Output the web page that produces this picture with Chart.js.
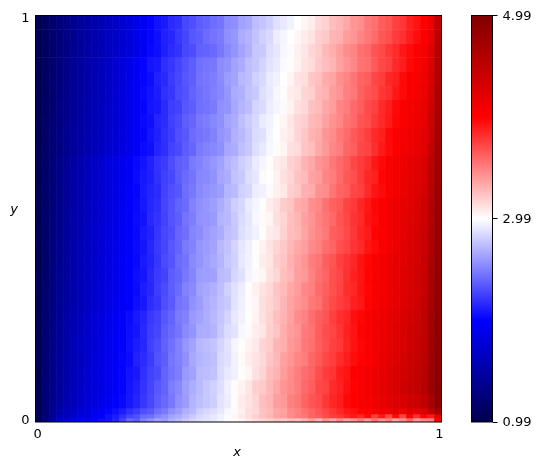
<!DOCTYPE html>
<html>
<head>
<meta charset="utf-8">
<style>
body { margin: 0; background: #fff; }
canvas { position: absolute; top: 0; }
</style>
<script src="https://cdn.jsdelivr.net/npm/chart.js@4"></script>
</head>
<body>
<canvas id="field" width="460" height="470" style="left:0"></canvas>
<canvas id="bar" width="82" height="470" style="left:460px"></canvas>
<script>
const xTicks = [0.005, 0.995];
const yTicks = [0.005, 0.995];
const barTicks = [0.99, 2.99, 4.99];
const colorStops = [
    [0, [0, 0, 77]],
    [0.25, [0, 0, 255]],
    [0.5, [255, 255, 255]],
    [0.75, [255, 0, 0]],
    [1, [128, 0, 0]]
];
// row limits in y, top row first. the last three rows are the thin strip along y=0
const rowEdges = [1, 0.9655, 0.931, 0.8966, 0.8621, 0.8276, 0.7931, 0.7586, 0.7241, 0.6897, 0.6552, 0.6207, 0.5862, 0.5517, 0.5172, 0.4828, 0.4483, 0.4138, 0.3793, 0.3448, 0.3103, 0.2759, 0.2414, 0.2069, 0.1724, 0.1379, 0.1034, 0.069, 0.0345, 0.0197, 0.0099, 0];
// values, one line per row, 58 columns left to right
const cells = [
[1.02,1.10,1.17,1.24,1.30,1.36,1.42,1.47,1.52,1.57,1.62,1.67,1.72,1.78,1.85,1.92,2.00,2.06,2.09,2.16,2.18,2.27,2.30,2.35,2.38,2.42,2.44,2.53,2.55,2.62,2.65,2.73,2.76,2.80,2.87,2.90,2.94,2.99,3.03,3.06,3.14,3.17,3.25,3.28,3.33,3.40,3.43,3.52,3.55,3.63,3.66,3.74,3.78,3.87,3.92,4.00,4.12,4.50],
[1.03,1.10,1.18,1.24,1.31,1.36,1.43,1.47,1.53,1.57,1.63,1.67,1.73,1.78,1.86,1.93,2.01,2.05,2.12,2.14,2.21,2.26,2.33,2.36,2.41,2.44,2.47,2.55,2.58,2.66,2.69,2.75,2.81,2.84,2.92,2.95,2.99,3.02,3.07,3.10,3.18,3.21,3.28,3.30,3.38,3.41,3.47,3.52,3.57,3.65,3.68,3.76,3.80,3.88,3.94,4.01,4.16,4.55],
[1.02,1.11,1.17,1.25,1.30,1.37,1.42,1.48,1.52,1.58,1.63,1.68,1.74,1.79,1.85,1.93,2.02,2.04,2.11,2.16,2.19,2.27,2.29,2.37,2.38,2.40,2.46,2.52,2.57,2.63,2.68,2.77,2.78,2.86,2.89,2.96,2.98,3.05,3.09,3.15,3.19,3.27,3.31,3.37,3.44,3.47,3.55,3.58,3.66,3.70,3.77,3.82,3.90,3.95,4.02,4.06,4.22,4.58],
[1.03,1.11,1.18,1.26,1.32,1.38,1.44,1.50,1.55,1.60,1.66,1.72,1.78,1.85,1.93,2.00,2.07,2.09,2.17,2.20,2.26,2.31,2.36,2.43,2.45,2.46,2.54,2.56,2.63,2.66,2.74,2.77,2.82,2.88,2.91,2.97,3.00,3.04,3.10,3.13,3.20,3.25,3.28,3.36,3.41,3.46,3.54,3.56,3.64,3.71,3.74,3.83,3.88,3.96,4.03,4.08,4.26,4.60],
[1.02,1.12,1.19,1.26,1.33,1.39,1.44,1.51,1.56,1.61,1.67,1.72,1.79,1.86,1.93,2.01,2.04,2.12,2.15,2.22,2.27,2.33,2.36,2.44,2.46,2.48,2.53,2.60,2.63,2.71,2.74,2.81,2.84,2.91,2.94,2.99,3.03,3.10,3.12,3.21,3.24,3.32,3.35,3.43,3.47,3.53,3.60,3.63,3.71,3.75,3.84,3.87,3.95,4.01,4.06,4.11,4.30,4.62],
[1.03,1.11,1.20,1.27,1.33,1.40,1.45,1.50,1.57,1.61,1.67,1.73,1.79,1.87,1.94,2.02,2.06,2.10,2.18,2.20,2.28,2.31,2.38,2.42,2.45,2.49,2.52,2.58,2.66,2.68,2.75,2.78,2.86,2.90,2.96,3.00,3.06,3.08,3.16,3.18,3.27,3.30,3.38,3.41,3.49,3.52,3.61,3.66,3.69,3.78,3.81,3.90,3.96,4.03,4.07,4.13,4.33,4.64],
[1.02,1.12,1.20,1.28,1.34,1.40,1.46,1.52,1.57,1.62,1.68,1.74,1.80,1.87,1.94,2.01,2.07,2.09,2.16,2.23,2.25,2.33,2.35,2.43,2.44,2.47,2.55,2.57,2.65,2.70,2.73,2.82,2.85,2.92,2.95,3.01,3.04,3.11,3.14,3.23,3.26,3.34,3.38,3.47,3.50,3.58,3.62,3.70,3.74,3.82,3.88,3.96,4.02,4.06,4.10,4.15,4.36,4.66],
[1.03,1.13,1.21,1.28,1.35,1.41,1.47,1.52,1.58,1.63,1.68,1.74,1.80,1.87,1.95,2.02,2.05,2.13,2.16,2.24,2.28,2.36,2.39,2.46,2.48,2.52,2.55,2.63,2.66,2.74,2.79,2.84,2.91,2.94,3.00,3.03,3.09,3.15,3.18,3.26,3.29,3.36,3.42,3.46,3.54,3.58,3.66,3.69,3.77,3.83,3.89,3.97,4.02,4.07,4.12,4.16,4.38,4.68],
[1.02,1.13,1.21,1.29,1.36,1.42,1.47,1.53,1.59,1.64,1.69,1.75,1.81,1.88,1.95,2.01,2.07,2.11,2.18,2.22,2.30,2.33,2.41,2.44,2.46,2.50,2.57,2.60,2.68,2.71,2.77,2.85,2.87,2.95,2.99,3.05,3.08,3.16,3.21,3.29,3.32,3.41,3.44,3.52,3.57,3.64,3.69,3.75,3.83,3.87,3.96,4.01,4.06,4.10,4.15,4.20,4.41,4.70],
[1.03,1.14,1.22,1.29,1.36,1.43,1.48,1.54,1.59,1.65,1.70,1.76,1.82,1.88,1.96,2.03,2.05,2.13,2.17,2.25,2.28,2.35,2.39,2.47,2.50,2.52,2.55,2.64,2.67,2.74,2.78,2.86,2.90,2.96,3.00,3.03,3.11,3.13,3.22,3.25,3.33,3.39,3.46,3.50,3.59,3.62,3.71,3.73,3.81,3.89,3.95,4.02,4.07,4.11,4.17,4.22,4.44,4.72],
[1.03,1.15,1.24,1.32,1.40,1.47,1.54,1.60,1.66,1.72,1.78,1.84,1.90,1.96,2.02,2.06,2.12,2.19,2.22,2.29,2.36,2.38,2.47,2.50,2.54,2.58,2.62,2.69,2.73,2.80,2.84,2.91,2.95,3.00,3.06,3.09,3.17,3.20,3.29,3.33,3.41,3.45,3.52,3.58,3.63,3.71,3.76,3.81,3.90,3.96,4.03,4.07,4.12,4.17,4.23,4.29,4.50,4.74],
[1.02,1.15,1.24,1.33,1.40,1.48,1.54,1.61,1.67,1.72,1.79,1.84,1.90,1.96,2.03,2.08,2.11,2.18,2.24,2.27,2.35,2.41,2.44,2.52,2.53,2.56,2.64,2.67,2.75,2.78,2.86,2.89,2.97,2.99,3.04,3.11,3.15,3.23,3.26,3.35,3.38,3.47,3.50,3.57,3.65,3.68,3.76,3.84,3.87,3.97,4.02,4.08,4.13,4.18,4.24,4.30,4.52,4.76],
[1.03,1.16,1.25,1.33,1.41,1.48,1.55,1.61,1.67,1.73,1.79,1.85,1.91,1.97,2.01,2.09,2.13,2.16,2.25,2.30,2.33,2.42,2.46,2.53,2.56,2.58,2.61,2.70,2.72,2.81,2.83,2.92,2.94,3.01,3.05,3.08,3.18,3.21,3.30,3.32,3.42,3.44,3.53,3.60,3.62,3.72,3.74,3.83,3.91,3.95,4.03,4.07,4.14,4.19,4.26,4.32,4.54,4.78],
[1.03,1.15,1.25,1.34,1.41,1.49,1.55,1.62,1.68,1.74,1.80,1.85,1.91,1.97,2.02,2.08,2.14,2.17,2.26,2.31,2.38,2.41,2.50,2.55,2.58,2.61,2.67,2.72,2.80,2.83,2.91,2.95,3.00,3.06,3.10,3.19,3.22,3.31,3.34,3.43,3.46,3.55,3.61,3.64,3.73,3.77,3.84,3.90,3.97,4.02,4.07,4.12,4.17,4.22,4.28,4.35,4.57,4.79],
[1.02,1.16,1.26,1.34,1.42,1.49,1.56,1.62,1.68,1.74,1.80,1.86,1.92,1.97,2.03,2.06,2.15,2.19,2.25,2.32,2.36,2.44,2.48,2.56,2.57,2.59,2.69,2.71,2.78,2.85,2.89,2.96,3.01,3.03,3.12,3.16,3.24,3.28,3.36,3.41,3.48,3.53,3.58,3.66,3.71,3.79,3.82,3.92,3.96,4.03,4.08,4.13,4.18,4.24,4.30,4.37,4.59,4.80],
[1.03,1.16,1.26,1.35,1.43,1.50,1.56,1.63,1.69,1.75,1.81,1.86,1.92,1.98,2.02,2.09,2.12,2.20,2.27,2.30,2.39,2.42,2.51,2.54,2.59,2.63,2.66,2.74,2.77,2.86,2.90,2.94,3.00,3.07,3.09,3.17,3.25,3.27,3.35,3.42,3.47,3.52,3.62,3.65,3.70,3.78,3.85,3.89,3.98,4.02,4.07,4.14,4.19,4.25,4.31,4.39,4.61,4.81],
[1.03,1.17,1.27,1.35,1.43,1.50,1.57,1.63,1.69,1.75,1.81,1.87,1.92,1.98,2.03,2.07,2.14,2.21,2.26,2.33,2.38,2.47,2.50,2.58,2.60,2.63,2.71,2.75,2.82,2.89,2.93,3.00,3.04,3.10,3.15,3.21,3.27,3.33,3.37,3.45,3.49,3.56,3.60,3.68,3.72,3.79,3.83,3.91,3.96,4.03,4.08,4.14,4.20,4.26,4.32,4.40,4.63,4.82],
[1.02,1.17,1.27,1.36,1.44,1.51,1.57,1.64,1.70,1.76,1.82,1.87,1.93,1.98,2.02,2.09,2.13,2.20,2.28,2.32,2.41,2.44,2.53,2.57,2.61,2.65,2.69,2.77,2.81,2.90,2.94,3.00,3.06,3.09,3.18,3.22,3.30,3.36,3.41,3.50,3.53,3.62,3.66,3.74,3.79,3.84,3.92,3.97,4.02,4.07,4.12,4.17,4.22,4.27,4.33,4.41,4.64,4.83],
[1.03,1.17,1.28,1.37,1.44,1.51,1.58,1.64,1.70,1.76,1.82,1.88,1.93,1.99,2.04,2.07,2.15,2.22,2.25,2.35,2.39,2.46,2.51,2.60,2.61,2.62,2.72,2.74,2.83,2.87,2.95,3.01,3.03,3.11,3.15,3.24,3.28,3.37,3.39,3.48,3.55,3.60,3.68,3.72,3.80,3.86,3.91,3.98,4.03,4.08,4.13,4.18,4.23,4.28,4.35,4.42,4.66,4.84],
[1.03,1.18,1.28,1.37,1.45,1.52,1.58,1.65,1.71,1.77,1.83,1.88,1.94,1.99,2.03,2.10,2.14,2.23,2.28,2.36,2.41,2.50,2.53,2.62,2.65,2.68,2.73,2.81,2.87,2.92,3.00,3.05,3.10,3.14,3.22,3.26,3.33,3.38,3.46,3.49,3.57,3.62,3.68,3.73,3.81,3.84,3.92,3.97,4.02,4.08,4.13,4.18,4.24,4.30,4.36,4.43,4.67,4.85],
[1.02,1.18,1.29,1.38,1.45,1.52,1.59,1.65,1.71,1.77,1.83,1.89,1.94,1.99,2.05,2.08,2.17,2.20,2.30,2.34,2.44,2.47,2.56,2.60,2.66,2.70,2.75,2.78,2.88,2.93,3.00,3.03,3.12,3.16,3.20,3.28,3.35,3.40,3.44,3.52,3.55,3.64,3.70,3.75,3.79,3.87,3.90,3.98,4.03,4.09,4.14,4.19,4.25,4.31,4.37,4.45,4.69,4.85],
[1.03,1.19,1.30,1.40,1.48,1.55,1.62,1.69,1.75,1.81,1.87,1.93,1.98,2.03,2.09,2.13,2.21,2.25,2.33,2.38,2.47,2.50,2.59,2.63,2.67,2.71,2.76,2.82,2.90,2.94,3.00,3.04,3.11,3.17,3.24,3.29,3.36,3.44,3.48,3.56,3.62,3.66,3.74,3.81,3.84,3.93,3.97,4.02,4.07,4.12,4.17,4.22,4.28,4.34,4.40,4.47,4.70,4.86],
[1.02,1.20,1.31,1.40,1.49,1.56,1.63,1.69,1.76,1.82,1.88,1.93,1.99,2.04,2.07,2.15,2.23,2.26,2.36,2.40,2.45,2.53,2.57,2.66,2.67,2.69,2.78,2.85,2.88,2.96,3.01,3.06,3.09,3.18,3.22,3.31,3.38,3.41,3.51,3.54,3.63,3.69,3.72,3.79,3.86,3.91,3.98,4.03,4.08,4.13,4.18,4.23,4.29,4.35,4.41,4.48,4.71,4.87],
[1.03,1.20,1.32,1.41,1.49,1.57,1.64,1.70,1.76,1.83,1.88,1.94,1.99,2.05,2.10,2.14,2.24,2.29,2.37,2.43,2.50,2.58,2.63,2.71,2.73,2.76,2.82,2.88,2.95,3.00,3.04,3.08,3.16,3.19,3.28,3.31,3.39,3.43,3.52,3.55,3.62,3.68,3.74,3.77,3.85,3.92,3.97,4.02,4.09,4.14,4.19,4.24,4.30,4.36,4.42,4.49,4.72,4.87],
[1.03,1.21,1.32,1.42,1.50,1.57,1.64,1.71,1.77,1.83,1.89,1.94,2.00,2.03,2.12,2.16,2.22,2.31,2.35,2.45,2.49,2.55,2.65,2.69,2.72,2.74,2.84,2.87,2.94,3.01,3.06,3.10,3.14,3.22,3.27,3.36,3.40,3.47,3.50,3.59,3.64,3.71,3.75,3.82,3.88,3.94,3.98,4.03,4.08,4.15,4.20,4.26,4.32,4.38,4.44,4.51,4.74,4.88],
[1.02,1.21,1.33,1.43,1.51,1.58,1.65,1.72,1.78,1.84,1.90,1.95,2.00,2.06,2.09,2.18,2.25,2.28,2.38,2.44,2.48,2.59,2.62,2.72,2.73,2.75,2.85,2.90,2.93,3.00,3.03,3.11,3.16,3.25,3.29,3.38,3.44,3.50,3.56,3.60,3.69,3.76,3.79,3.88,3.91,3.99,4.02,4.07,4.12,4.17,4.23,4.28,4.34,4.40,4.46,4.53,4.75,4.89],
[1.03,1.22,1.34,1.44,1.52,1.59,1.66,1.73,1.79,1.85,1.90,1.96,2.00,2.07,2.11,2.19,2.26,2.33,2.38,2.48,2.52,2.61,2.67,2.72,2.77,2.81,2.86,2.93,3.00,3.04,3.09,3.18,3.20,3.27,3.33,3.41,3.45,3.50,3.58,3.62,3.71,3.73,3.82,3.86,3.93,3.98,4.03,4.08,4.14,4.19,4.24,4.30,4.36,4.42,4.48,4.55,4.77,4.90],
[1.03,1.22,1.35,1.45,1.54,1.60,1.68,1.74,1.80,1.86,1.92,1.97,2.02,2.08,2.13,2.20,2.27,2.35,2.40,2.46,2.55,2.60,2.69,2.74,2.77,2.80,2.88,2.92,3.00,3.07,3.10,3.15,3.24,3.28,3.37,3.39,3.49,3.52,3.60,3.66,3.69,3.78,3.84,3.88,3.96,3.99,4.02,4.06,4.11,4.16,4.20,4.26,4.30,4.36,4.40,4.46,4.68,4.88],
[1.03,1.20,1.40,1.50,1.62,1.65,1.75,1.80,1.88,1.95,2.00,2.05,2.10,2.17,2.22,2.30,2.33,2.42,2.47,2.55,2.60,2.68,2.72,2.80,2.83,2.86,2.90,2.96,3.01,3.05,3.12,3.14,3.23,3.26,3.33,3.36,3.45,3.48,3.55,3.60,3.66,3.72,3.78,3.84,3.90,3.93,3.98,4.00,4.06,4.10,4.14,4.20,4.10,4.25,4.20,4.30,4.50,4.70],
[1.05,1.25,1.40,1.58,1.60,1.72,1.85,1.80,1.92,1.98,2.05,2.10,2.18,2.25,2.30,2.40,2.42,2.50,2.55,2.62,2.66,2.72,2.78,2.84,2.87,2.90,2.94,2.98,3.02,3.08,3.12,3.18,3.24,3.28,3.35,3.38,3.44,3.50,3.52,3.60,3.64,3.70,3.75,3.78,3.84,3.90,3.82,3.95,3.75,3.90,3.70,3.95,3.72,3.98,3.80,3.98,3.90,4.20],
[1.04,1.30,1.50,1.72,1.80,1.88,1.92,1.96,2.00,2.03,2.06,2.12,2.25,2.40,2.35,2.50,2.55,2.62,2.60,2.68,2.72,2.78,2.82,2.86,2.88,2.90,2.94,2.97,2.99,3.03,3.08,3.12,3.16,3.18,3.22,3.20,3.26,3.24,3.30,3.38,3.28,3.42,3.34,3.46,3.36,3.40,3.52,3.38,3.55,3.42,3.50,3.36,3.44,3.58,3.40,3.46,3.50,4.05]
];

const minValue = barTicks[0];
const maxValue = barTicks[barTicks.length - 1];

function cellColor(v) {
    const t = Math.min(1, Math.max(0, (v - minValue) / (maxValue - minValue)));
    let i = 0;
    while (i < colorStops.length - 2 && t > colorStops[i + 1][0]) i++;
    const [t0, c0] = colorStops[i];
    const [t1, c1] = colorStops[i + 1];
    const f = (t - t0) / (t1 - t0);
    const mix = c0.map((c, k) => Math.round(c + (c1[k] - c) * f));
    return `rgb(${mix[0]}, ${mix[1]}, ${mix[2]})`;
}

// outline round the plot area, drawn over the bars
const frame = {
    id: 'frame',
    afterDatasetsDraw(chart) {
        const a = chart.chartArea;
        const ctx = chart.ctx;
        ctx.save();
        ctx.strokeStyle = '#000';
        ctx.lineWidth = 1;
        ctx.strokeRect(a.left, a.top, a.right - a.left, a.bottom - a.top);
        ctx.restore();
    }
};

// matplotlib style axis names, y is not rotated
const axisNames = {
    id: 'axisNames',
    afterDraw(chart) {
        const ctx = chart.ctx;
        ctx.save();
        ctx.fillStyle = '#000';
        ctx.font = 'italic 13px "DejaVu Sans"';
        ctx.textAlign = 'center';
        ctx.textBaseline = 'middle';
        ctx.fillText('x', 237, 453);
        ctx.fillText('y', 14, 210);
        ctx.restore();
    }
};

Chart.defaults.font.family = '"DejaVu Sans"';
Chart.defaults.font.size = 13;
Chart.defaults.color = '#000';

const nCols = cells[0].length;
const datasets = cells.map((row, r) => ({
    data: row.map((v, c) => ({ x: (c + 0.5) / nCols, y: [rowEdges[r + 1], rowEdges[r]] })),
    backgroundColor: row.map(cellColor),
    grouped: false,
    barPercentage: 1,
    categoryPercentage: 1,
    borderWidth: 0
}));

new Chart(document.getElementById('field'), {
    type: 'bar',
    data: { datasets: datasets },
    options: {
        responsive: false,
        animation: false,
        events: [],
        layout: { padding: { top: 15.5, right: 18.5, left: 0, bottom: 0 } },
        plugins: { legend: { display: false }, tooltip: { enabled: false } },
        scales: {
            x: {
                type: 'linear',
                offset: false,
                min: 0,
                max: 1,
                border: { display: false },
                grid: { display: false, drawTicks: false },
                ticks: { padding: 5, maxRotation: 0, autoSkip: false, callback: v => Math.round(v) },
                afterBuildTicks: s => { s.ticks = xTicks.map(v => ({ value: v })); },
                afterFit: s => { s.height = 48; }
            },
            y: {
                min: 0,
                max: 1,
                border: { display: false },
                grid: { display: false, drawTicks: false },
                ticks: { padding: 6, labelOffset: 1, autoSkip: false, callback: v => Math.round(v) },
                afterBuildTicks: s => { s.ticks = yTicks.map(v => ({ value: v })); },
                afterFit: s => { s.width = 35.5; }
            }
        }
    },
    plugins: [frame, axisNames]
});

new Chart(document.getElementById('bar'), {
    type: 'bar',
    data: {
        labels: [''],
        datasets: [{
            data: [[minValue, maxValue]],
            barPercentage: 1,
            categoryPercentage: 1,
            borderWidth: 0,
            backgroundColor: c => {
                const a = c.chart.chartArea;
                if (!a) return '#000';
                const g = c.chart.ctx.createLinearGradient(0, a.bottom, 0, a.top);
                colorStops.forEach(s => g.addColorStop(s[0], `rgb(${s[1].join(',')})`));
                return g;
            }
        }]
    },
    options: {
        responsive: false,
        animation: false,
        events: [],
        layout: { padding: { top: 15.5, left: 11.5, right: 0, bottom: 48 } },
        plugins: { legend: { display: false }, tooltip: { enabled: false } },
        scales: {
            x: { display: false },
            y: {
                position: 'right',
                min: minValue,
                max: maxValue,
                border: { display: false },
                grid: { drawOnChartArea: false, drawTicks: true, tickLength: 5, color: '#000' },
                ticks: { padding: 5, labelOffset: 1, autoSkip: false, callback: v => v.toFixed(2) },
                afterBuildTicks: s => { s.ticks = barTicks.map(v => ({ value: v })); },
                afterFit: s => { s.width = 49.5; }
            }
        }
    },
    plugins: [frame]
});
</script>
</body>
</html>
